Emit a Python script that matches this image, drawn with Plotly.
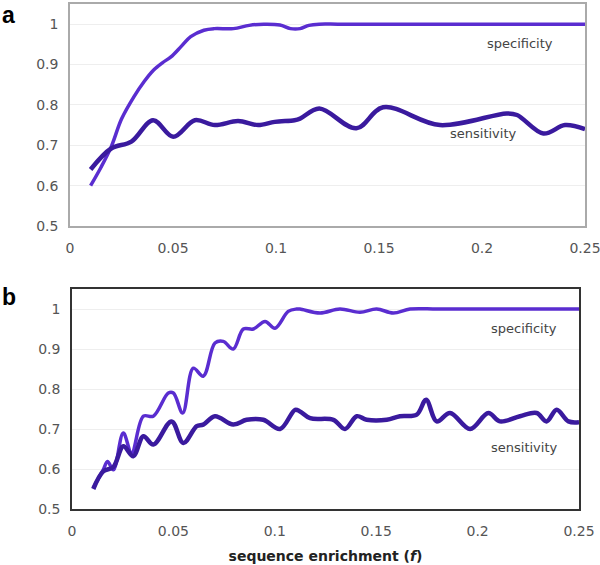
import plotly.graph_objects as go

# Panel a
a_spec_x = [0.01, 0.015, 0.02, 0.025, 0.031, 0.036, 0.0405, 0.045, 0.049, 0.054, 0.0586, 0.065, 0.07, 0.0793, 0.087, 0.094, 0.1019, 0.107, 0.1117, 0.116, 0.121, 0.13, 0.15, 0.2, 0.25]
a_spec_y = [0.60, 0.645, 0.696, 0.765, 0.82, 0.858, 0.886, 0.905, 0.919, 0.945, 0.969, 0.985, 0.989, 0.989, 0.997, 1.0, 0.998, 0.989, 0.989, 0.997, 1.0, 1.0, 1.0, 1.0, 1.0]
a_sens_x = [0.01, 0.02, 0.0298, 0.0403, 0.0501, 0.0606, 0.0703, 0.0816, 0.0913, 0.0994, 0.109, 0.1117, 0.121, 0.139, 0.152, 0.1796, 0.212, 0.217, 0.2298, 0.2403, 0.25]
a_sens_y = [0.64, 0.692, 0.709, 0.762, 0.721, 0.762, 0.75, 0.76, 0.75, 0.758, 0.762, 0.766, 0.791, 0.742, 0.794, 0.75, 0.779, 0.775, 0.729, 0.75, 0.74]

# Panel b
b_spec_x = [0.0105, 0.0154, 0.0175, 0.0204, 0.0253, 0.0294, 0.0352, 0.0401, 0.0475, 0.05, 0.0546, 0.0598, 0.0647, 0.0705, 0.0746, 0.0795, 0.0845, 0.0894, 0.0952, 0.1001, 0.1066, 0.1108, 0.1124, 0.1223, 0.1321, 0.142, 0.1502, 0.1584, 0.1667, 0.18, 0.2, 0.25]
b_spec_y = [0.553, 0.598, 0.619, 0.598, 0.69, 0.64, 0.732, 0.732, 0.79, 0.79, 0.74, 0.852, 0.832, 0.915, 0.919, 0.90, 0.95, 0.95, 0.969, 0.952, 0.994, 1.0, 1.0, 0.99, 1.0, 0.992, 1.0, 0.99, 1.0, 1.0, 1.0, 1.0]
b_sens_x = [0.0105, 0.0154, 0.0204, 0.0253, 0.0302, 0.0352, 0.0401, 0.0491, 0.0549, 0.0615, 0.0647, 0.0705, 0.0795, 0.0861, 0.0943, 0.1026, 0.11, 0.1124, 0.1174, 0.1289, 0.1346, 0.1404, 0.1453, 0.1552, 0.1617, 0.17, 0.1746, 0.1798, 0.1864, 0.1963, 0.2053, 0.211, 0.2209, 0.2291, 0.234, 0.239, 0.2448, 0.25]
b_sens_y = [0.55, 0.594, 0.605, 0.657, 0.632, 0.682, 0.661, 0.719, 0.665, 0.707, 0.711, 0.732, 0.711, 0.723, 0.723, 0.70, 0.748, 0.744, 0.727, 0.723, 0.70, 0.732, 0.723, 0.723, 0.732, 0.736, 0.773, 0.719, 0.74, 0.70, 0.74, 0.719, 0.732, 0.74, 0.719, 0.748, 0.719, 0.717]

x_ticks = [0, 0.05, 0.1, 0.15, 0.2, 0.25]
x_labels = ["0", "0.05", "0.1", "0.15", "0.2", "0.25"]
y_ticks = [0.5, 0.6, 0.7, 0.8, 0.9, 1.0]
y_labels = ["0.5", "0.6", "0.7", "0.8", "0.9", "1"]

SPEC_C = "#5a2dd0"
SENS_C = "#3a1a9e"
FONT = "DejaVu Sans"

fig = go.Figure()
fig.add_trace(go.Scatter(x=a_spec_x, y=a_spec_y, mode="lines", line=dict(color=SPEC_C, width=3.5, shape="spline", smoothing=1), xaxis="x", yaxis="y"))
fig.add_trace(go.Scatter(x=a_sens_x, y=a_sens_y, mode="lines", line=dict(color=SENS_C, width=4.5, shape="spline", smoothing=1), xaxis="x", yaxis="y"))
fig.add_trace(go.Scatter(x=b_spec_x, y=b_spec_y, mode="lines", line=dict(color=SPEC_C, width=3.5, shape="spline", smoothing=1), xaxis="x2", yaxis="y2"))
fig.add_trace(go.Scatter(x=b_sens_x, y=b_sens_y, mode="lines", line=dict(color=SENS_C, width=4.5, shape="spline", smoothing=1), xaxis="x2", yaxis="y2"))

tickfont = dict(family=FONT, size=14, color="#555555")
common_x = dict(range=[0, 0.250001], tickvals=x_ticks, ticktext=x_labels, showgrid=False, zeroline=False,
                tickfont=tickfont, ticks="outside", ticklen=8, tickcolor="rgba(0,0,0,0)",
                ticklabeloverflow="allow",
                mirror=True, showline=True, automargin=False)
common_y = dict(range=[0.5, 1.05], tickvals=y_ticks, ticktext=y_labels, showgrid=True, gridcolor="#eeeeee",
                zeroline=False, tickfont=tickfont, ticks="outside", ticklen=7, tickcolor="rgba(0,0,0,0)",
                mirror=True, showline=True, automargin=False)

fig.update_layout(
    width=600, height=565,
    margin=dict(l=0, r=0, t=0, b=0),
    paper_bgcolor="white", plot_bgcolor="white",
    showlegend=False,
    xaxis=dict(domain=[70/600, 585/600], anchor="y", linecolor="#aaaaaa", linewidth=1.5, **common_x),
    yaxis=dict(domain=[1-226/565, 1-4/565], anchor="x", linecolor="#aaaaaa", linewidth=1.5, **common_y),
    xaxis2=dict(domain=[72/600, 579/600], anchor="y2", linecolor="#333333", linewidth=1.5,
                title=dict(text="<b>sequence enrichment (<i>f</i>)</b>", font=dict(family=FONT, size=14, color="#222222"), standoff=14),
                **common_x),
    yaxis2=dict(domain=[1-509/565, 1-289/565], anchor="x2", linecolor="#333333", linewidth=1.5, **common_y),
)

ann_font = dict(family=FONT, size=13, color="#444444")
fig.add_annotation(x=0.2184, y=0.953, xref="x", yref="y", text="specificity", showarrow=False, font=ann_font)
fig.add_annotation(x=0.2005, y=0.73, xref="x", yref="y", text="sensitivity", showarrow=False, font=ann_font)
fig.add_annotation(x=0.2229, y=0.9525, xref="x2", yref="y2", text="specificity", showarrow=False, font=ann_font)
fig.add_annotation(x=0.2229, y=0.655, xref="x2", yref="y2", text="sensitivity", showarrow=False, font=ann_font)

fig.add_annotation(x=0, y=1, xref="paper", yref="paper", xanchor="left", yanchor="top", text="<b>a</b>",
                   showarrow=False, font=dict(family="Liberation Sans", size=23, color="black"))
fig.add_annotation(x=0, y=1-282/565, xref="paper", yref="paper", xanchor="left", yanchor="top", text="<b>b</b>",
                   showarrow=False, font=dict(family="Liberation Sans", size=23, color="black"))

fig.write_html("out.html", config={"displayModeBar": False},
               post_script="document.body.style.margin='0';document.body.style.overflow='hidden';")
